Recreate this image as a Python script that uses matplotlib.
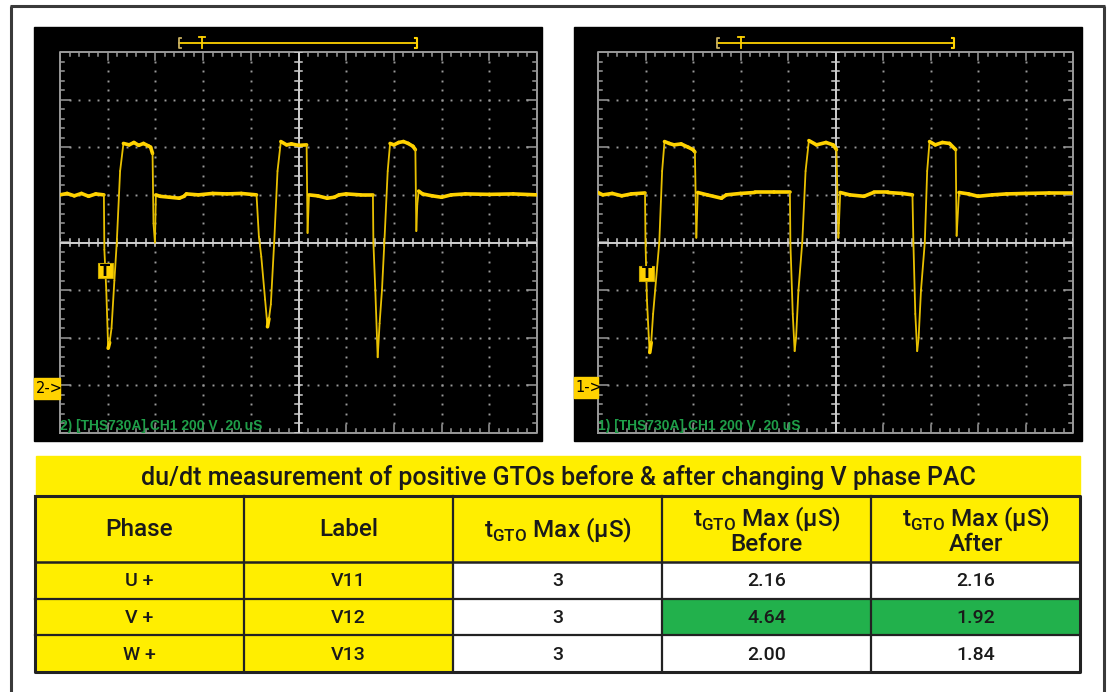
import numpy as np
import matplotlib
matplotlib.use("Agg")
import matplotlib.pyplot as plt
from matplotlib.patches import Rectangle
from matplotlib.collections import LineCollection

plt.rcParams['font.family'] = ['Roboto', 'DejaVu Sans']
plt.rcParams['mathtext.fontset'] = 'custom'
plt.rcParams['mathtext.rm'] = 'Roboto'

# ---------------- data ----------------
# scope traces (x in divisions 0-10, y in divisions -4..4)
left_x = [0, 0.15, 0.3, 0.45, 0.6, 0.75, 0.92,
          0.93, 0.97, 1.01, 1.04, 1.08, 1.14, 1.19, 1.26, 1.33,
          1.45, 1.55, 1.65, 1.75, 1.85, 1.9, 1.94,
          1.96, 1.99, 2.01, 2.1, 2.3, 2.5, 2.6, 2.65, 2.9, 3.2, 3.5, 3.8, 4.12,
          4.17, 4.22, 4.3, 4.35, 4.38, 4.42, 4.49, 4.56, 4.63,
          4.75, 4.85, 5.0, 5.17,
          5.19, 5.22, 5.4, 5.6, 5.75, 5.85, 6.0, 6.3, 6.56,
          6.57, 6.61, 6.66, 6.70, 6.75, 6.80, 6.87, 6.92,
          7.0, 7.1, 7.2, 7.3, 7.4, 7.45,
          7.47, 7.49, 7.52, 7.6, 7.8, 8.0, 8.2, 8.5, 9.0, 9.5, 10]
left_y = [1.0, 1.03, 0.98, 1.03, 0.97, 1.02, 1.0,
          -0.15, -1.0, -2.22, -2.1, -1.8, -0.8, 0.0, 1.5, 2.08,
          2.05, 2.1, 2.04, 2.08, 2.03, 2.0, 1.87,
          0.4, 0.0, 1.0, 0.97, 0.95, 0.93, 0.97, 1.02, 1.0, 1.03, 1.02, 1.03, 1.0,
          0.12, -0.3, -1.2, -1.77, -1.6, -1.3, 0.0, 1.5, 2.12,
          2.05, 2.07, 2.04, 2.05,
          0.2, 1.0, 0.98, 0.93, 0.95, 1.0, 1.02, 1.0, 1.0,
          0.0, -1.0, -2.41, -1.7, -1.0, 0.0, 1.5, 2.08,
          2.05, 2.1, 2.12, 2.08, 2.02, 1.95,
          0.24, 0.8, 1.08, 1.02, 0.98, 0.95, 1.0, 1.02, 1.01, 1.02, 1.0]

right_x = [0, 0.1, 0.3, 0.5, 0.7, 0.99,
           1.0, 1.03, 1.07, 1.09, 1.12, 1.16, 1.29, 1.35, 1.40,
           1.5, 1.6, 1.75, 1.9, 2.0, 2.04,
           2.07, 2.1, 2.3, 2.6, 2.7, 3.0, 3.3, 3.7, 4.04,
           4.05, 4.1, 4.14, 4.17, 4.22, 4.30, 4.37, 4.44,
           4.6, 4.8, 4.95, 5.02,
           5.06, 5.1, 5.3, 5.6, 5.8, 6.1, 6.4, 6.62,
           6.64, 6.68, 6.72, 6.75, 6.8, 6.88, 6.93, 6.98,
           7.1, 7.25, 7.4, 7.53,
           7.55, 7.6, 7.8, 8.0, 8.3, 8.6, 9.0, 9.5, 10]
right_y = [1.05, 1.0, 1.03, 0.98, 1.02, 1.04,
           0.0, -1.2, -2.0, -2.31, -2.1, -1.5, 0.0, 1.5, 2.12,
           2.08, 2.05, 2.07, 2.0, 1.95, 1.9,
           0.1, 1.05, 1.0, 0.93, 1.0, 1.03, 1.05, 1.05, 1.05,
           0.0, -1.5, -2.28, -2.0, -1.0, 0.0, 1.5, 2.14,
           2.05, 2.1, 2.05, 1.95,
           0.1, 1.05, 1.0, 0.97, 1.05, 1.05, 1.03, 1.0,
           0.0, -1.5, -2.28, -2.0, -1.0, 0.0, 1.5, 2.12,
           2.05, 2.1, 2.08, 1.95,
           0.14, 1.05, 1.02, 0.97, 1.0, 1.02, 1.03, 1.04, 1.04]

scope_labels = ["2) [THS730A].CH1 200 V  20 uS", "1) [THS730A].CH1 200 V  20 uS"]
channel_marks = ["2->", "1->"]
bracket_left = [2.49, 2.50]
bracket_right = [7.48, 7.49]
trig_pos = [2.98, 3.01]
t_marker_x = [0.95, 1.02]
t_marker_y = [-0.59, -0.65]
ground_level = [-3.07, -3.05]

# table
table_title = "du/dt measurement of positive GTOs before & after changing V phase PAC"
headers = ["Phase", "Label",
           r"t$_{\mathregular{GTO}}$ Max (µS)",
           "t$_{\\mathregular{GTO}}$ Max (µS)\nBefore",
           "t$_{\\mathregular{GTO}}$ Max (µS)\nAfter"]
phases = ["U +", "V +", "W +"]
labels = ["V11", "V12", "V13"]
tgto_max = ["3", "3", "3"]
before = ["2.16", "4.64", "2.00"]
after = ["2.16", "1.92", "1.84"]
highlight_row = 1

# ---------------- figure ----------------
W, H = 1112, 692
fig = plt.figure(figsize=(W / 100, H / 100), dpi=100)
base = fig.add_axes([0, 0, 1, 1])
base.set_xlim(0, W)
base.set_ylim(H, 0)
base.axis('off')

# outer frame
frame_c = '#3a3a3a'
base.plot([11, 11], [6, H + 5], color=frame_c, lw=2.2, solid_capstyle='butt')
base.plot([10, 1105], [6, 6], color=frame_c, lw=2.2, solid_capstyle='butt')
base.plot([1104, 1104], [6, H + 5], color=frame_c, lw=2.2, solid_capstyle='butt')

YEL = '#FFD200'
GRID = '#9a9a9a'
CENT = '#d0d0d0'

scope_rects = [(34, 27, 542, 441), (574, 27, 1082, 441)]
grid_rects = [(60, 52, 537, 433), (598, 52, 1073, 433)]
traces = [(left_x, left_y), (right_x, right_y)]

for k in range(2):
    x0, y0, x1, y1 = scope_rects[k]
    base.add_patch(Rectangle((x0, y0), x1 - x0, y1 - y0, color='black', zorder=1))
    gx0, gy0, gx1, gy1 = grid_rects[k]
    ax = fig.add_axes([gx0 / W, (H - gy1) / H, (gx1 - gx0) / W, (gy1 - gy0) / H])
    ax.set_xlim(0, 10)
    ax.set_ylim(-4, 4)
    ax.set_facecolor('none')
    ax.axis('off')

    fine_x = np.arange(0, 10.001, 0.2)
    fine_y = np.arange(-4, 4.001, 0.2)
    # dotted grid
    for i in range(1, 10):
        if i == 5:
            continue
        ax.plot(np.full_like(fine_y[1:-1], i), fine_y[1:-1], ls='none', marker='s',
                ms=1.4, mew=0, color='#9a9a9a')
    for j in range(-3, 4):
        if j == 0:
            continue
        ax.plot(fine_x[1:-1], np.full_like(fine_x[1:-1], j), ls='none', marker='s',
                ms=1.4, mew=0, color='#9a9a9a')
    # border
    ax.plot([0, 10, 10, 0, 0], [-4, -4, 4, 4, -4], color=GRID, lw=1.4, clip_on=False)
    # border ticks
    for xv in fine_x:
        major = abs(xv - round(xv)) < 1e-6
        L = 0.17 if major else 0.08
        ax.plot([xv, xv], [4, 4 - L], color=GRID, lw=1.1)
        ax.plot([xv, xv], [-4, -4 + L], color=GRID, lw=1.1)
        ax.plot([xv, xv], [-0.07, 0.07], color=CENT, lw=1.1)
    for yv in fine_y:
        major = abs(yv - round(yv)) < 1e-6
        L = 0.2 if major else 0.08
        ax.plot([0, L], [yv, yv], color=GRID, lw=1.1)
        ax.plot([10, 10 - L], [yv, yv], color=GRID, lw=1.1)
        ax.plot([4.93, 5.07], [yv, yv], color=CENT, lw=1.1)
    # centre cross
    ax.plot([0, 10], [0, 0], color=CENT, lw=1.4)
    ax.plot([5, 5], [-4, 4], color=CENT, lw=1.4)

    # trace: flat (noisy) parts look thicker than the fast edges
    tx, ty = np.asarray(traces[k][0]), np.asarray(traces[k][1])
    pts = np.column_stack([tx, ty])
    segs = np.stack([pts[:-1], pts[1:]], axis=1)
    flat = np.abs(np.diff(ty)) < 0.25
    lws = np.where(flat, 2.6, 1.3)
    cols = np.where(flat, YEL, '#E8C000')
    ax.add_collection(LineCollection(segs, linewidths=lws, colors=list(cols),
                                     capstyle='round', joinstyle='round', zorder=5))

    # time bracket above the grid
    by = 4.19
    bl, br, tp = bracket_left[k], bracket_right[k], trig_pos[k]
    ax.plot([bl, br], [by, by], color=YEL, lw=1.3, clip_on=False)
    ax.plot([bl + 0.04, bl, bl, bl + 0.04], [by + 0.1, by + 0.1, by - 0.1, by - 0.1],
            color='#c8b060', lw=1.3, clip_on=False)
    ax.plot([br - 0.04, br, br, br - 0.04], [by + 0.1, by + 0.1, by - 0.1, by - 0.1],
            color=YEL, lw=1.5, clip_on=False)
    ax.plot([tp, tp], [by - 0.1, by + 0.12], color=YEL, lw=1.3, clip_on=False)
    ax.plot([tp - 0.06, tp + 0.06], [by + 0.12, by + 0.12], color=YEL, lw=1.3, clip_on=False)

    # trigger marker
    ax.add_patch(Rectangle((t_marker_x[k] - 0.16, t_marker_y[k] - 0.16), 0.32, 0.32,
                           fc=YEL, ec='#c8a800', lw=0.8, zorder=7))
    ax.text(t_marker_x[k], t_marker_y[k] - 0.01, "T", ha='center', va='center', fontsize=10.5,
            fontweight='bold', color='black', zorder=8, family='DejaVu Sans')
    # channel ground marker
    gm_w = (gx0 - x0) / ((gx1 - gx0) / 10)
    ax.add_patch(Rectangle((-gm_w, ground_level[k] - 0.22), gm_w, 0.44, color=YEL,
                           clip_on=False, zorder=6))
    ax.text(-gm_w + 0.03, ground_level[k], channel_marks[k], ha='left', va='center',
            fontsize=10.5, color='black', clip_on=False, zorder=7, family='DejaVu Sans')
    # scope label
    ax.text(0.0, -3.86, scope_labels[k], ha='left', va='center', fontsize=10,
            fontweight='bold', color='#1e9e48', zorder=7, family='Liberation Sans')

# ---------------- table ----------------
TY = '#FFEE00'
GREEN = '#22B14C'
EDGE = '#222222'
TXT = '#1a1a1a'
FW = 'medium'
tx0, tx1 = 35, 1080
ncol = 5
cw = (tx1 - tx0) / ncol
title_top, head_top, head_bot, tbot = 456, 496, 562, 672
rh = (tbot - head_bot) / 3

base.add_patch(Rectangle((36, title_top), tx1 - 36, head_top - title_top, color=TY, zorder=2))
base.text((36 + tx1) / 2, (title_top + head_top) / 2 + 1, table_title, ha='center', va='center',
          fontsize=18, fontweight=FW, color=TXT, zorder=4)

# header cells
base.add_patch(Rectangle((tx0, head_top), tx1 - tx0, head_bot - head_top, color=TY, zorder=2))
for c in range(ncol):
    cx = tx0 + cw * (c + 0.5)
    base.text(cx, (head_top + head_bot) / 2 + 1, headers[c], ha='center', va='center',
              fontsize=17.5, fontweight=FW, color=TXT, linespacing=0.95, zorder=4)

columns = [phases, labels, tgto_max, before, after]
for r in range(3):
    ry = head_bot + rh * r
    for c in range(ncol):
        if c < 2:
            fc = TY
        elif r == highlight_row and c >= 3:
            fc = GREEN
        else:
            fc = 'white'
        base.add_patch(Rectangle((tx0 + cw * c, ry), cw, rh, color=fc, zorder=2))
        base.text(tx0 + cw * (c + 0.5), ry + rh / 2 + 1, columns[c][r], ha='center',
                  va='center', fontsize=14, fontweight=FW, color=TXT, zorder=4)

# grid lines of the table
for c in range(1, ncol):
    xx = tx0 + cw * c
    base.plot([xx, xx], [head_top, tbot], color=EDGE, lw=1.6, zorder=3)
for r in range(1, 3):
    yy = head_bot + rh * r
    base.plot([tx0, tx1], [yy, yy], color=EDGE, lw=1.6, zorder=3)
base.plot([tx0, tx1], [head_bot, head_bot], color=EDGE, lw=1.8, zorder=3)
base.plot([tx0, tx1, tx1, tx0, tx0], [head_top, head_top, tbot, tbot, head_top],
          color=EDGE, lw=2.2, zorder=3)

fig.savefig("out.png", dpi=100)
